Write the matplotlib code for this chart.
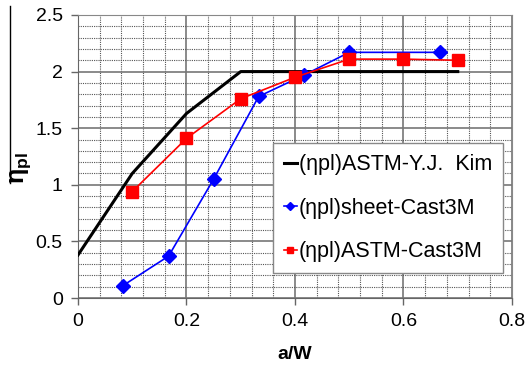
import matplotlib.pyplot as plt
from matplotlib.ticker import MultipleLocator
from matplotlib.lines import Line2D

plt.rcParams['font.family'] = ['Liberation Sans', 'DejaVu Sans']
plt.rcParams['mathtext.fontset'] = 'custom'
plt.rcParams['mathtext.rm'] = 'Liberation Sans'
plt.rcParams['mathtext.it'] = 'Liberation Sans:italic'
plt.rcParams['mathtext.bf'] = 'Liberation Sans:bold'

# (ηpl)ASTM-Y.J. Kim
kim_x = [0.0, 0.1, 0.2, 0.3, 0.7]
kim_y = [0.38, 1.10, 1.63, 2.0, 2.0]

# (ηpl)sheet-Cast3M
sheet_x = [0.083, 0.167, 0.25, 0.333, 0.417, 0.5, 0.667]
sheet_y = [0.11, 0.37, 1.05, 1.78, 1.97, 2.17, 2.17]

# (ηpl)ASTM-Cast3M
astm_x = [0.1, 0.2, 0.3, 0.4, 0.5, 0.6, 0.7]
astm_y = [0.94, 1.41, 1.76, 1.95, 2.11, 2.11, 2.10]

xticks = [0, 0.2, 0.4, 0.6, 0.8]
xtick_labels = ['0', '0.2', '0.4', '0.6', '0.8']
yticks = [0, 0.5, 1, 1.5, 2, 2.5]
ytick_labels = ['0', '0.5', '1', '1.5', '2', '2.5']

fig = plt.figure(figsize=(5.27, 3.69), dpi=100)
ax = fig.add_axes([0.148, 0.1924, 0.8235, 0.767])

ax.plot(kim_x, kim_y, color='black', lw=2.2, label='(ηpl)ASTM-Y.J.  Kim', zorder=3)
ax.plot(sheet_x, sheet_y, color='blue', lw=1.2, marker='D', ms=7.5,
        label='(ηpl)sheet-Cast3M', zorder=4)
ax.plot(astm_x, astm_y, color='red', lw=1.2, marker='s', ms=8,
        label='(ηpl)ASTM-Cast3M', zorder=4)

ax.set_xlim(0, 0.8)
ax.set_ylim(0, 2.5)
ax.set_xticks(xticks)
ax.set_xticklabels(xtick_labels)
ax.set_yticks(yticks)
ax.set_yticklabels(ytick_labels)
ax.xaxis.set_minor_locator(MultipleLocator(0.04))
ax.yaxis.set_minor_locator(MultipleLocator(0.1))

ax.grid(which='major', color='#777777', lw=1.2, ls='-')
ax.grid(which='minor', color='#555555', lw=0.8, ls=(0, (1, 1)))
ax.set_axisbelow(True)

for s in ['top', 'right']:
    ax.spines[s].set_color('#888888')
for s in ['left', 'bottom']:
    ax.spines[s].set_color('#666666')
ax.tick_params(which='major', direction='out', length=5, width=1, color='#666666',
               labelsize=14, pad=6)
ax.tick_params(which='minor', length=0)

ax.set_xlabel('a/W', fontsize=14, fontweight='bold')
ax.xaxis.set_label_coords(0.5, -0.168)
ax.set_ylabel(r'$\mathbf{\eta_{pl}}$', fontsize=18)
ax.yaxis.set_label_coords(-0.104, 0.46)

fig.add_artist(Line2D([0.019, 0.019], [0.505, 0.985], color='black', lw=1,
                      transform=fig.transFigure))

leg = ax.legend(loc='lower right', bbox_to_anchor=(0.979, 0.088), fontsize=15.5,
                borderaxespad=0, handlelength=0.6, handletextpad=0.1,
                borderpad=0.5, labelspacing=1.05, fancybox=False, framealpha=1,
                edgecolor='#888888', markerscale=0.6)
leg.get_frame().set_linewidth(1)

fig.savefig('out.png', dpi=100)
